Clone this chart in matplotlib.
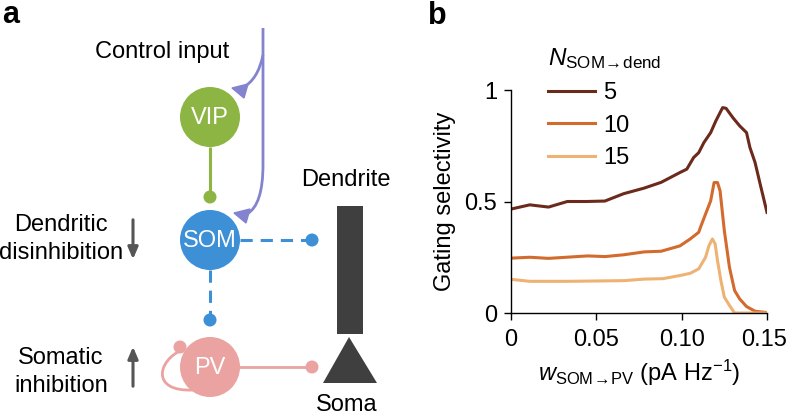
import numpy as np
import matplotlib
matplotlib.use("Agg")
import matplotlib.pyplot as plt
import matplotlib.transforms as mtransforms
from matplotlib.patches import Circle, Rectangle, Polygon, PathPatch
from matplotlib.path import Path

plt.rcParams['font.family'] = ['Liberation Sans', 'DejaVu Sans']
plt.rcParams['mathtext.fontset'] = 'custom'
plt.rcParams['mathtext.rm'] = 'Liberation Sans'
plt.rcParams['mathtext.it'] = 'Liberation Sans:italic'

# panel b data
x5 = [0, 0.011, 0.022, 0.033, 0.044, 0.055, 0.066, 0.078, 0.088, 0.099, 0.103, 0.107, 0.110,
      0.113, 0.117, 0.120, 0.124, 0.126, 0.130, 0.134, 0.138, 0.140, 0.143, 0.146, 0.150]
y5 = [0.466, 0.485, 0.475, 0.500, 0.500, 0.502, 0.535, 0.560, 0.586, 0.630, 0.645, 0.697, 0.719,
      0.764, 0.809, 0.861, 0.921, 0.918, 0.876, 0.839, 0.809, 0.742, 0.675, 0.578, 0.451]
x10 = [0, 0.011, 0.022, 0.045, 0.055, 0.066, 0.078, 0.088, 0.099, 0.105, 0.110, 0.111, 0.114,
       0.117, 0.119, 0.121, 0.1225, 0.125, 0.128, 0.131, 0.134, 0.138, 0.143, 0.150]
y10 = [0.246, 0.250, 0.245, 0.256, 0.253, 0.261, 0.274, 0.277, 0.301, 0.332, 0.362, 0.384, 0.444,
       0.503, 0.585, 0.585, 0.548, 0.369, 0.205, 0.101, 0.063, 0.029, 0.008, 0.002]
x15 = [0, 0.011, 0.033, 0.066, 0.078, 0.089, 0.099, 0.105, 0.110, 0.114, 0.116, 0.118, 0.1196,
       0.121, 0.123, 0.125, 0.128, 0.131, 0.150]
y15 = [0.151, 0.142, 0.142, 0.145, 0.152, 0.154, 0.168, 0.178, 0.198, 0.250, 0.302, 0.332, 0.310,
       0.235, 0.145, 0.071, 0.034, 0.0, 0.0]
n_labels = ['5', '10', '15']
line_colors = ['#6b2a1c', '#d36a2e', '#eeb274']
xticks = [0, 0.05, 0.10, 0.15]
xticklabels = ['0', '0.05', '0.10', '0.15']
yticks = [0, 0.5, 1]
yticklabels = ['0', '0.5', '1']

# panel a schematic (pixel coordinates)
cells = {'VIP': (210, 117, '#8cb543'), 'SOM': (210, 240, '#3d8fd6'), 'PV': (210, 367, '#eaa3a0')}
cell_r = 30
purple = '#8383cf'
dark = '#3f3f3f'
fs = 17

fig = plt.figure(figsize=(7.88, 4.18), dpi=100)

# ---------------- panel a ----------------
axa = fig.add_axes([0, 0, 400 / 788, 1])
axa.set_xlim(0, 400)
axa.set_ylim(418, 0)
axa.axis('off')

# purple control input lines
main = Path([(263, 28), (263, 165), (263, 205), (247, 214)],
            [Path.MOVETO, Path.LINETO, Path.CURVE3, Path.CURVE3])
axa.add_patch(PathPatch(main, fc='none', ec=purple, lw=2))
branch = Path([(263, 55), (258, 80), (242, 88)],
              [Path.MOVETO, Path.CURVE3, Path.CURVE3])
axa.add_patch(PathPatch(branch, fc='none', ec=purple, lw=2))
axa.add_patch(Polygon([(232, 88), (248, 84), (244, 98)], closed=True, fc=purple, ec=purple, lw=1))
axa.add_patch(Polygon([(234, 213), (250, 209), (246, 223)], closed=True, fc=purple, ec=purple, lw=1))

# VIP -> SOM
vx, vy, vc = cells['VIP']
sx, sy, sc = cells['SOM']
px, py, pc = cells['PV']
axa.plot([vx, vx], [vy + cell_r, 196], color=vc, lw=2.2, solid_capstyle='butt')
axa.add_patch(Circle((vx, 197), 6.5, fc=vc, ec='none'))

# SOM -> dendrite, SOM -> PV (dashed)
axa.plot([sx + cell_r, 312], [sy, sy], color=sc, lw=2.2, ls=(0, (4, 2.6)))
axa.add_patch(Circle((312, sy), 6.5, fc=sc, ec='none'))
axa.plot([sx, sx], [sy + cell_r, 320], color=sc, lw=2.2, ls=(0, (4, 2.6)))
axa.add_patch(Circle((sx, 320), 6.5, fc=sc, ec='none'))

# PV -> soma and self loop
axa.plot([px + cell_r, 312], [py, py], color=pc, lw=2)
axa.add_patch(Circle((312, py), 6.5, fc=pc, ec='none'))
loop = Path([(193, 390), (150, 392), (158, 360), (182, 350)],
            [Path.MOVETO, Path.CURVE4, Path.CURVE4, Path.CURVE4])
axa.add_patch(PathPatch(loop, fc='none', ec=pc, lw=2))
axa.add_patch(Circle((180, 347), 6.5, fc=pc, ec='none'))

for name, (cx, cy, col) in cells.items():
    axa.add_patch(Circle((cx, cy), cell_r, fc=col, ec='none', zorder=3))
    axa.text(cx, cy + 1, name, color='white', fontsize=fs, ha='center', va='center', zorder=4)

# pyramidal neuron
axa.add_patch(Rectangle((337, 206), 26, 128, fc=dark, ec='none'))
axa.add_patch(Polygon([(349, 337), (323, 383), (377, 383)], closed=True, fc=dark, ec='none'))
axa.text(346, 180, 'Dendrite', fontsize=fs, ha='center', va='center')
axa.text(347, 405, 'Soma', fontsize=fs, ha='center', va='center')

axa.text(162, 52, 'Control input', fontsize=fs, ha='center', va='center')
axa.text(61, 225, 'Dendritic', fontsize=fs, ha='center', va='center')
axa.text(61, 253, 'disinhibition', fontsize=fs, ha='center', va='center')
axa.text(61, 358, 'Somatic', fontsize=fs, ha='center', va='center')
axa.text(61, 386, 'inhibition', fontsize=fs, ha='center', va='center')
axa.annotate('', xy=(133, 262), xytext=(133, 217),
             arrowprops=dict(arrowstyle='-|>,head_length=0.7,head_width=0.3', color='#555555', lw=2.2))
axa.annotate('', xy=(133, 344), xytext=(133, 389),
             arrowprops=dict(arrowstyle='-|>,head_length=0.7,head_width=0.3', color='#555555', lw=2.2))
axa.text(2, 15, 'a', fontsize=22, fontweight='bold', ha='left', va='center')

# ---------------- panel b ----------------
ax = fig.add_axes([511 / 788, (418 - 313) / 418, 256 / 788, 223 / 418])
for xs, ys, lab, col in zip([x5, x10, x15], [y5, y10, y15], n_labels, line_colors):
    ax.plot(xs, ys, color=col, lw=2.2, label=lab, solid_joinstyle='round')
ax.set_xlim(0, 0.15)
ax.set_ylim(0, 1)
ax.set_xticks(xticks)
ax.set_xticklabels(xticklabels)
ax.set_yticks(yticks)
ax.set_yticklabels(yticklabels)
ax.tick_params(labelsize=fs, length=5, width=1, pad=5)
ax.tick_params(axis='x', pad=6.5)
for side in ['top', 'right']:
    ax.spines[side].set_visible(False)
for side in ['left', 'bottom']:
    ax.spines[side].set_linewidth(1)
# last x tick label nudged left a little so it stays inside the figure
last = ax.get_xticklabels()[-1]
last.set_transform(last.get_transform() + mtransforms.ScaledTranslation(-3 / 100, 0, fig.dpi_scale_trans))

ax.set_ylabel('Gating selectivity', fontsize=fs, labelpad=6)
ax.set_xlabel(r'$w_{\mathrm{SOM}\hspace{-0.15}\rightarrow\hspace{-0.15}\mathrm{PV}}$ (pA Hz$^{-1}$)',
              fontsize=fs, labelpad=5)
leg = ax.legend(loc='upper left', bbox_to_anchor=(0.06, 1.29), frameon=False, fontsize=fs,
                handlelength=2.0, handletextpad=0.35, labelspacing=0.45,
                title=r'$N_{\mathrm{SOM}\hspace{-0.15}\rightarrow\hspace{-0.15}\mathrm{dend}}$',
                title_fontsize=fs + 0.5)
leg._legend_box.align = 'left'
fig.text(428 / 788, 1 - 16 / 418, 'b', fontsize=22, fontweight='bold', ha='left', va='center')

fig.savefig('out.png', dpi=100)
